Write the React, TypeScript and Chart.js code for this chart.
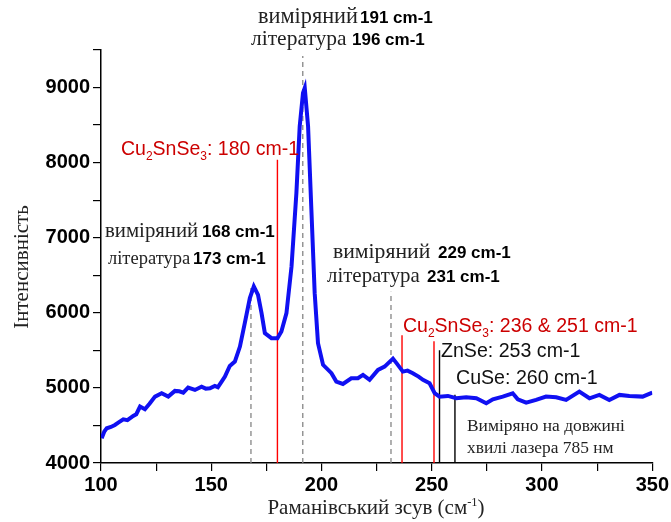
import React, { useEffect, useRef } from "react";
import { Chart, registerables } from "chart.js";

Chart.register(...registerables);

// Raman spectrum
const ramanShift = [
  100.3, 101.5, 102.6, 104.5, 106.3, 108, 110.1, 112, 114.6, 116, 117.7, 119.9, 122, 124.5, 127.5,
  130.5, 133.5, 135.5, 137.3, 139.5, 142.6, 145.6, 147.5, 149.4, 151.6, 153, 154.7, 156.2, 158.4,
  160.7, 163, 165.2, 167.5, 169.3, 171.2, 172.8, 174.3, 177.3, 180, 181.8, 184.1, 186.4, 188.6,
  190.1, 191.6, 192.4, 193.9, 195.4, 196.9, 198.4, 200.7, 204.5, 206.7, 209.7, 213.5, 216.5,
  218.8, 221.8, 225.6, 228.6, 232.4, 234, 236.9, 239, 241.4, 244, 246, 249, 251.3, 253.5, 257.3,
  261.1, 265.6, 270.2, 274.7, 277.7, 282.2, 286.7, 289, 292.8, 297.3, 301.8, 306.4, 310.9, 316.9,
  321.5, 326, 330.5, 335.1, 339.6, 345.6, 350,
];
const intensity = [
  4329, 4420, 4462, 4480, 4507, 4540, 4582, 4570, 4627, 4650, 4751, 4716, 4790, 4884, 4929,
  4884, 4960, 4955, 4937, 5004, 4973, 5017, 4990, 4996, 5027, 5010, 5084, 5151, 5293,
  5351, 5551, 5862, 6196, 6351, 6240, 5996, 5729, 5662, 5662, 5751, 5996, 6618, 7595,
  8484, 8929, 8996, 8484, 7373, 6262, 5596, 5307, 5196, 5084, 5053, 5129, 5129,
  5173, 5107, 5240, 5284, 5390, 5330, 5217, 5230, 5196, 5150, 5107, 5062, 4929, 4884, 4893,
  4862, 4876, 4862, 4796, 4849, 4884, 4929, 4849, 4804, 4840, 4884, 4876, 4840, 4951,
  4862, 4907, 4840, 4907, 4893, 4884, 4937,
];

// Marker lines: position (cm-1), top value, kind
const markerShift = [168, 180, 191.5, 231.5, 236.5, 251, 253.5, 260.5];
const markerTop = [6330, 8040, 9420, 6280, 5700, 5620, 5500, 4910];
const markerKind = ["measured", "CTSe", "measured", "measured", "CTSe", "CTSe", "other", "other"];

// Axes
const xMin = 100;
const xMax = 350;
const xStep = 25;
const xLabelStep = 50;
const yMin = 4000;
const yMax = 9500;
const yStep = 500;
const yLabelStep = 1000;

const yTitle = "Інтенсивність";
const xTitleMain = "Раманівський зсув (см";
const xTitleSup = "-1";
const xTitleEnd = ")";

const SERIF = '"Liberation Serif", "Times New Roman", serif';
const SANS = '"Liberation Sans", Arial, sans-serif';

type Run = { t: string; font: string; color: string; dy?: number; x?: number };

const serif = (s: number) => `${s}px ${SERIF}`;
const sansB = (s: number) => `bold ${s}px ${SANS}`;
const sans = (s: number) => `${s}px ${SANS}`;

const TXT = "#222";
const RED = "#cc0000";

function drawRuns(ctx: CanvasRenderingContext2D, x: number, y: number, runs: Run[]) {
  let cx = x;
  for (const r of runs) {
    if (r.x !== undefined) cx = r.x;
    ctx.font = r.font;
    ctx.fillStyle = r.color;
    ctx.textAlign = "left";
    ctx.textBaseline = "alphabetic";
    ctx.fillText(r.t, cx, y + (r.dy || 0));
    cx += ctx.measureText(r.t).width;
  }
}

const ctseRuns = (tail: string): Run[] => [
  { t: "Cu", font: sans(19.5), color: RED },
  { t: "2", font: sans(12), color: RED, dy: 5 },
  { t: "SnSe", font: sans(19.5), color: RED },
  { t: "3", font: sans(12), color: RED, dy: 5 },
  { t: tail, font: sans(19.5), color: RED },
];

const annotationPlugin = {
  id: "annotations",
  afterDraw(chart: any) {
    const ctx: CanvasRenderingContext2D = chart.ctx;
    ctx.save();
    const pairs: [number, number, string, number, number, string][] = [
      [258, 23, "виміряний", 22.3, 360, "191 cm-1"],
      [251, 45, "література", 21.5, 352, "196 cm-1"],
      [105, 237, "виміряний", 20.8, 202, "168 cm-1"],
      [108, 264, "література", 18.5, 193, "173 cm-1"],
      [333, 258, "виміряний", 21.7, 438, "229 cm-1"],
      [327, 282, "література", 20.9, 427, "231 cm-1"],
    ];
    for (const [x, y, a, sz, bx, b] of pairs) {
      drawRuns(ctx, x, y, [
        { t: a, font: serif(sz), color: TXT },
        { t: b, font: sansB(17), color: "#000", x: bx },
      ]);
    }
    drawRuns(ctx, 121, 155, ctseRuns(": 180 cm-1"));
    drawRuns(ctx, 403, 332, ctseRuns(": 236 & 251 cm-1"));
    drawRuns(ctx, 441, 357, [{ t: "ZnSe: 253 cm-1", font: sans(19.6), color: "#111" }]);
    drawRuns(ctx, 456, 384, [{ t: "CuSe: 260 cm-1", font: sans(19.6), color: "#111" }]);
    drawRuns(ctx, 467, 431, [{ t: "Виміряно на довжині", font: serif(17.4), color: TXT }]);
    drawRuns(ctx, 467, 453, [{ t: "хвилі лазера 785 нм", font: serif(17.4), color: TXT }]);

    // x title with superscript
    const big = serif(21);
    const small = serif(12.5);
    ctx.font = big;
    const w1 = ctx.measureText(xTitleMain).width;
    ctx.font = small;
    const w2 = ctx.measureText(xTitleSup).width;
    ctx.font = big;
    const w3 = ctx.measureText(xTitleEnd).width;
    const start = 376 - (w1 + w2 + w3) / 2;
    drawRuns(ctx, start, 514, [
      { t: xTitleMain, font: big, color: TXT },
      { t: xTitleSup, font: small, color: TXT, dy: -8 },
      { t: xTitleEnd, font: big, color: TXT },
    ]);

    // y title
    ctx.translate(22, 267);
    ctx.rotate(-Math.PI / 2);
    ctx.font = serif(21);
    ctx.fillStyle = TXT;
    ctx.textAlign = "center";
    ctx.textBaseline = "middle";
    ctx.fillText(yTitle, 0, 0);
    ctx.restore();
  },
};

export default function App() {
  const ref = useRef<HTMLCanvasElement | null>(null);
  useEffect(() => {
    if (!ref.current) return;
    const markerSets = markerShift.map((x, i) => {
      const kind = markerKind[i];
      return {
        type: "line" as const,
        data: [
          { x, y: yMin },
          { x, y: markerTop[i] },
        ],
        borderColor: kind === "measured" ? "#858585" : kind === "CTSe" ? "#ff0000" : "#000000",
        borderWidth: kind === "measured" ? 1.3 : 1.4,
        borderDash: kind === "measured" ? [5, 4] : [],
        pointRadius: 0,
        fill: false,
        order: 2,
      };
    });
    const chart = new Chart(ref.current, {
      type: "line",
      data: {
        datasets: [
          {
            data: ramanShift.map((x, i) => ({ x, y: intensity[i] })),
            borderColor: "#1010f2",
            borderWidth: 4,
            pointRadius: 0,
            tension: 0,
            fill: false,
            order: 1,
          },
          ...markerSets,
        ] as any,
      },
      options: {
        responsive: false,
        animation: false,
        events: [],
        layout: { padding: { left: 0, right: 18, top: 50, bottom: 0 } },
        plugins: { legend: { display: false }, tooltip: { enabled: false }, title: { display: false } },
        scales: {
          x: {
            type: "linear",
            min: xMin,
            max: xMax,
            border: { display: true, color: "#000", width: 1.5 },
            grid: { drawOnChartArea: false, drawTicks: true, tickLength: 8, color: "#000", lineWidth: 1.2 },
            ticks: {
              stepSize: xStep,
              autoSkip: false,
              maxRotation: 0,
              padding: 2,
              color: "#000",
              font: { family: SANS, size: 20, weight: "bold" },
              callback: (v: any) => (Number(v) % xLabelStep === 0 ? String(v) : ""),
            },
            afterBuildTicks: (s: any) => {
              s.ticks = s.ticks.filter((t: any) => t.value % xStep === 0);
            },
            afterFit: (s: any) => {
              s.height = 59;
            },
          },
          y: {
            type: "linear",
            min: yMin,
            max: yMax,
            border: { display: true, color: "#000", width: 1.5 },
            grid: { drawOnChartArea: false, drawTicks: true, tickLength: 8, color: "#000", lineWidth: 1.2 },
            ticks: {
              stepSize: yStep,
              autoSkip: false,
              padding: 3,
              color: "#000",
              font: { family: SANS, size: 20, weight: "bold" },
              callback: (v: any) => (Number(v) % yLabelStep === 0 ? String(v) : ""),
            },
            afterBuildTicks: (s: any) => {
              s.ticks = s.ticks.filter((t: any) => t.value % yStep === 0);
            },
            afterFit: (s: any) => {
              s.width = 101;
            },
          },
        },
      } as any,
      plugins: [annotationPlugin],
    });
    return () => chart.destroy();
  }, []);
  return (
    <div style={{ position: "fixed", left: 0, top: 0, width: 671, height: 522, background: "#fff" }}>
      <canvas ref={ref} width={671} height={522} />
    </div>
  );
}
